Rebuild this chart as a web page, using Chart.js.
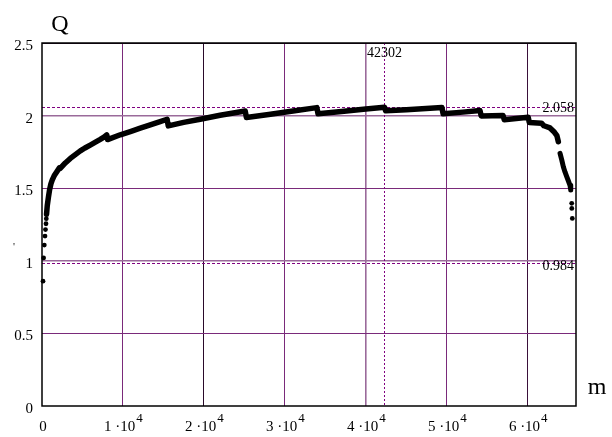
<!DOCTYPE html>
<html>
<head>
<meta charset="utf-8">
<script src="https://cdn.jsdelivr.net/npm/chart.js@4.4.1/dist/chart.umd.min.js"></script>
<style>
  html, body { margin: 0; padding: 0; background: #fff; }
  #wrap { width: 612px; height: 437px; }
</style>
</head>
<body>
<div id="wrap"><canvas id="c" width="612" height="437"></canvas></div>
<script>
// dense part of the curve (drawn as a thick line)
const curveM = [560, 650, 800, 940, 1100, 1270, 1500, 1850, 2150, 2250, 2880, 3500, 4200, 4730, 5300, 5960, 6600, 7200, 7700, 8000,
                8100, 9670, 11000, 12140, 13370, 14500, 15450,
                15600, 17500, 19540, 22000, 25100,
                25250, 28000, 31000, 33950,
                34100, 37000, 40000, 42302,
                42450, 45000, 49400,
                49550, 52000, 54100,
                54250, 56950,
                57100, 60050,
                60200, 61700, 62000, 62750, 63300, 63600, 63780];
const curveQ = [1.32, 1.38, 1.44, 1.49, 1.53, 1.557, 1.585, 1.615, 1.64, 1.636, 1.674, 1.705, 1.735, 1.757, 1.777, 1.797, 1.817, 1.836, 1.853, 1.867,
                1.835, 1.868, 1.892, 1.913, 1.936, 1.957, 1.975,
                1.929, 1.953, 1.975, 2.002, 2.032,
                1.987, 2.008, 2.032, 2.055,
                2.012, 2.028, 2.045, 2.058,
                2.033, 2.041, 2.055,
                2.012, 2.024, 2.035,
                1.998, 2.0,
                1.971, 1.989,
                1.952, 1.948, 1.93, 1.915, 1.885, 1.862, 1.82];
// falling tail near the right edge
const tailM = [63990, 64200, 64395, 64600, 64815, 65000, 65222, 65309];
const tailQ = [1.74, 1.695, 1.648, 1.612, 1.58, 1.553, 1.52, 1.488];
// single dots
const dotM = [123, 198, 284, 370, 430, 494, 531, 65432, 65440, 65506];
const dotQ = [0.86, 1.02, 1.108, 1.17, 1.215, 1.255, 1.29, 1.396, 1.361, 1.292];

const xTicks = [0, 10000, 20000, 30000, 40000, 50000, 60000];
const yTicks = [0, 0.5, 1, 1.5, 2, 2.5];
const xMax = 65960;
const markM = 42302;
const markHi = 2.058;
const markLo = 0.984;

const xGridColors = { 10000: '#7a2a7a', 20000: '#2a0a2a', 30000: '#7a2a7a', 40000: '#9a6a9a', 50000: '#7a2a7a', 60000: '#3a103a' };
const yGridColors = { 0.5: '#7a2a7a', 1: '#9a6a9a', 1.5: '#7a2a7a', 2: '#9a6a9a', 2.5: '#2a0a2a' };

const toPts = (xs, ys) => xs.map((x, i) => ({ x: x, y: ys[i] }));
const serif = '"Liberation Serif", "Times New Roman", serif';

const extras = {
    id: 'extras',
    beforeDatasetsDraw(chart) {
        const { ctx, chartArea: a, scales: { x, y } } = chart;
        ctx.save();
        ctx.strokeStyle = '#800080';
        ctx.lineWidth = 1;
        // horizontal dashed markers
        ctx.setLineDash([3, 2]);
        [markHi, markLo].forEach(v => {
            const py = Math.round(y.getPixelForValue(v)) + 0.5;
            ctx.beginPath(); ctx.moveTo(a.left, py); ctx.lineTo(a.right, py); ctx.stroke();
        });
        // vertical dotted marker
        ctx.setLineDash([2, 2]);
        const px = Math.round(x.getPixelForValue(markM)) + 0.5;
        ctx.beginPath(); ctx.moveTo(px, a.top); ctx.lineTo(px, a.bottom); ctx.stroke();
        ctx.setLineDash([]);

        ctx.fillStyle = '#000';
        ctx.font = '14px ' + serif;
        ctx.textAlign = 'right';
        ctx.textBaseline = 'middle';
        ctx.fillText(String(markHi), a.right - 2, y.getPixelForValue(markHi) + 1);
        ctx.fillText(String(markLo), a.right - 2, y.getPixelForValue(markLo) + 3);
        ctx.textAlign = 'center';
        ctx.fillText(String(markM), px, a.top + 10);
        ctx.restore();
    },
    afterDraw(chart) {
        const { ctx, chartArea: a, scales: { x } } = chart;
        ctx.save();
        // frame
        ctx.strokeStyle = '#000';
        ctx.lineWidth = 1.5;
        ctx.strokeRect(a.left, a.top, a.right - a.left, a.bottom - a.top);

        // x tick labels with exponent
        ctx.fillStyle = '#000';
        ctx.textBaseline = 'alphabetic';
        ctx.textAlign = 'left';
        xTicks.forEach(v => {
            const px = x.getPixelForValue(v);
            if (v === 0) {
                ctx.font = '15px ' + serif;
                ctx.textAlign = 'center';
                ctx.fillText('0', px + 1, 431);
                ctx.textAlign = 'left';
                return;
            }
            const main = (v / 10000) + ' \u00b710';
            ctx.font = '15px ' + serif;
            const w1 = ctx.measureText(main).width;
            ctx.font = '13px ' + serif;
            const w2 = ctx.measureText('4').width;
            const start = px - (w1 + w2) / 2;
            ctx.font = '15px ' + serif;
            ctx.fillText(main, start, 431);
            ctx.font = '13px ' + serif;
            ctx.fillText('4', start + w1 + 1, 422);
        });

        // axis names
        ctx.font = '24px ' + serif;
        ctx.textAlign = 'center';
        ctx.fillText('Q', 60, 31);
        ctx.fillText('m', 597, 394);
        ctx.font = '11px ' + serif;
        ctx.fillText("'", 14, 250);
        ctx.restore();
    }
};

new Chart(document.getElementById('c'), {
    type: 'scatter',
    data: {
        datasets: [
            {
                data: toPts(curveM, curveQ), showLine: true,
                borderColor: '#000', backgroundColor: '#000',
                borderWidth: 5.5, pointRadius: 0, borderCapStyle: 'round', borderJoinStyle: 'round',
                clip: false
            },
            {
                data: toPts(tailM, tailQ), showLine: true,
                borderColor: '#000', backgroundColor: '#000',
                borderWidth: 5, pointRadius: 0, borderCapStyle: 'round', borderJoinStyle: 'round',
                clip: false
            },
            {
                data: toPts(dotM, dotQ), showLine: false,
                borderColor: '#000', backgroundColor: '#000',
                pointRadius: 2.4, borderWidth: 0, clip: false
            }
        ]
    },
    options: {
        responsive: false,
        animation: false,
        layout: { padding: { top: 43, right: 36, left: 0, bottom: 0 } },
        plugins: { legend: { display: false }, tooltip: { enabled: false } },
        scales: {
            x: {
                type: 'linear', min: 0, max: xMax,
                afterBuildTicks: s => { s.ticks = xTicks.map(v => ({ value: v })); },
                afterFit: s => { s.height = 31; },
                ticks: { display: false },
                border: { display: false },
                grid: {
                    drawTicks: false,
                    color: c => xGridColors[c.tick.value] || 'rgba(0,0,0,0)',
                    lineWidth: c => c.tick.value === 40000 ? 1.6 : 1
                }
            },
            y: {
                min: 0, max: 2.5,
                afterBuildTicks: s => { s.ticks = yTicks.map(v => ({ value: v })); },
                afterFit: s => { s.width = 42; },
                border: { display: false },
                ticks: {
                    color: '#000', padding: 9, labelOffset: 3,
                    font: { family: serif, size: 15 },
                    callback: v => String(v)
                },
                grid: {
                    drawTicks: false,
                    color: c => yGridColors[c.tick.value] || 'rgba(0,0,0,0)',
                    lineWidth: c => (c.tick.value === 2 || c.tick.value === 1) ? 1.6 : 1
                }
            }
        }
    },
    plugins: [extras]
});
</script>
</body>
</html>
